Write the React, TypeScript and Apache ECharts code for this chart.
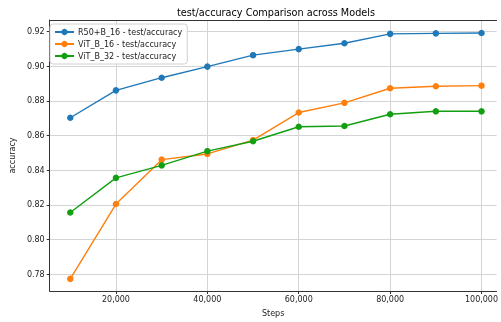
import React, { useEffect, useRef } from "react";
import * as echarts from "echarts";

const steps = [10000, 20000, 30000, 40000, 50000, 60000, 70000, 80000, 90000, 100000];
const r50b16 = [0.8703, 0.8861, 0.8934, 0.8998, 0.9064, 0.9099, 0.9133, 0.9187, 0.9190, 0.9192];
const vitB16 = [0.7773, 0.8205, 0.8461, 0.8494, 0.8574, 0.8733, 0.8789, 0.8873, 0.8885, 0.8888];
const vitB32 = [0.8156, 0.8356, 0.8428, 0.8510, 0.8567, 0.8651, 0.8655, 0.8723, 0.8740, 0.8740];
const seriesNames = ["R50+B_16 - test/accuracy", "ViT_B_16 - test/accuracy", "ViT_B_32 - test/accuracy"];
const xTicks = [20000, 40000, 60000, 80000, 100000];
const yTicks = [0.78, 0.8, 0.82, 0.84, 0.86, 0.88, 0.9, 0.92];
const colors = ["#1f78b8", "#ff7f0e", "#12a012"];

const FONT = "DejaVu Sans";
const X_MIN = 5500;
const X_MAX = 103300;

export default function App() {
  const ref = useRef<HTMLDivElement>(null);
  useEffect(() => {
    if (!ref.current) return;
    const chart = echarts.init(ref.current, null, { renderer: "svg" });
    const all = [r50b16, vitB16, vitB32];
    chart.setOption({
      animation: false,
      textStyle: { fontFamily: FONT },
      graphic: [
        {
          type: "text",
          x: 276,
          y: 12,
          style: {
            text: "test/accuracy Comparison across Models",
            fontFamily: FONT,
            fontSize: 9.7,
            fill: "#000",
            textAlign: "center",
            textVerticalAlign: "middle",
          },
        },
      ],
      grid: {
        left: 48,
        top: 20,
        right: 0,
        bottom: 29,
        show: false,
        containLabel: false,
      },
      legend: {
        orient: "vertical",
        left: 50,
        top: 24,
        itemWidth: 19,
        itemHeight: 8,
        itemGap: 4,
        padding: [4, 5, 4, 4],
        borderColor: "#d0d0d0",
        borderWidth: 1,
        borderRadius: 3,
        backgroundColor: "rgba(255,255,255,0.85)",
        textStyle: { fontFamily: FONT, fontSize: 8, color: "#222", padding: [0, 0, 0, -1] },
        data: seriesNames,
      },
      xAxis: [
        {
          type: "value",
          min: X_MIN,
          max: X_MAX,
          name: "Steps",
          nameLocation: "middle",
          nameGap: 18,
          nameTextStyle: { fontFamily: FONT, fontSize: 8, color: "#222" },
          axisLine: { show: true, onZero: false, lineStyle: { color: "#333", width: 1 } },
          axisTick: { show: true, length: 3, lineStyle: { color: "#333" }, customValues: xTicks },
          axisLabel: {
            fontFamily: FONT,
            fontSize: 8,
            color: "#222",
            margin: 4,
            customValues: xTicks,
            formatter: (v: number) => v.toLocaleString("en-US"),
          },
          splitLine: { show: true, lineStyle: { color: "#d4d4d4", width: 1 } },
        },
        {
          type: "value",
          position: "top",
          min: X_MIN,
          max: X_MAX,
          axisLine: { show: true, onZero: false, lineStyle: { color: "#333", width: 1 } },
          axisTick: { show: false },
          axisLabel: { show: false },
          splitLine: { show: false },
        },
      ],
      yAxis: {
        type: "value",
        min: 0.7703,
        max: 0.9267,
        name: "accuracy",
        nameLocation: "middle",
        nameGap: 29,
        nameTextStyle: { fontFamily: FONT, fontSize: 8, color: "#222" },
        axisLine: { show: true, onZero: false, lineStyle: { color: "#333", width: 1 } },
        axisTick: { show: true, length: 3, lineStyle: { color: "#333" }, customValues: yTicks },
        axisLabel: {
          fontFamily: FONT,
          fontSize: 8,
          color: "#222",
          margin: 5,
          customValues: yTicks,
          formatter: (v: number) => v.toFixed(2),
        },
        splitLine: { show: true, lineStyle: { color: "#d4d4d4", width: 1 } },
      },
      series: all.map((vals, i) => ({
        name: seriesNames[i],
        type: "line",
        xAxisIndex: 0,
        data: steps.map((s, j) => [s, vals[j]]),
        symbol: "circle",
        symbolSize: 6.5,
        showSymbol: true,
        lineStyle: { color: colors[i], width: 1.4 },
        itemStyle: { color: colors[i] },
        emphasis: { disabled: true },
        z: 2 + i,
      })),
    });
    return () => chart.dispose();
  }, []);
  return <div ref={ref} style={{ position: "fixed", left: 0, top: 0, width: 501, height: 322 }} />;
}
